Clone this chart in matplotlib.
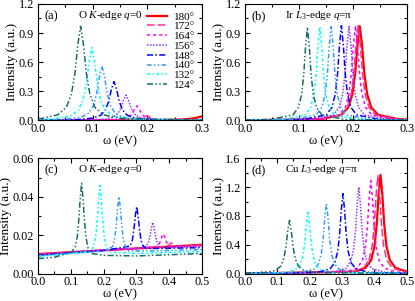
import matplotlib
matplotlib.use("Agg")
import matplotlib.pyplot as plt
from matplotlib.ticker import MultipleLocator

plt.rcParams['font.family'] = ['Liberation Serif', 'DejaVu Serif']
plt.rcParams['mathtext.fontset'] = 'custom'
plt.rcParams['mathtext.rm'] = 'Liberation Serif'
plt.rcParams['mathtext.it'] = 'Liberation Serif:italic'
plt.rcParams['font.size'] = 9

angles = ['180°', '172°', '164°', '156°', '148°', '140°', '132°', '124°']
colors = ['#ff0000', '#ff3090', '#ff00ff', '#9933ff', '#0000ff', '#3399ff', '#00ffff', '#1a6a6a']
styles = ['-', (0, (5, 2)), (0, (2, 2)), (0, (1, 1)), (0, (4, 1.5, 1, 1.5)),
          (0, (3, 1.5, 1, 1.5, 1, 1.5)), (0, (2, 1.5, 1, 1.5)), (0, (4, 1.5, 1, 1.5, 1, 1.5))]
widths = [1.6, 1.1, 1.1, 1.1, 1.1, 1.1, 1.1, 1.1]

# (a) O K-edge q=0, curves in order 180 ... 124
a_omega = [
    [0.0, 0.15, 0.22, 0.25, 0.27, 0.28, 0.29, 0.30],
    [0.0, 0.171, 0.1815, 0.188, 0.192, 0.1955, 0.199, 0.2025, 0.206, 0.210, 0.2165, 0.227, 0.3],
    [0.0, 0.149, 0.161, 0.1682, 0.173, 0.177, 0.181, 0.185, 0.189, 0.1938, 0.201, 0.213, 0.3],
    [0.0, 0.091, 0.125, 0.1385, 0.1466, 0.152, 0.1565, 0.161, 0.1655, 0.170, 0.1754, 0.1835, 0.197, 0.231, 0.3],
    [0.0, 0.069, 0.101, 0.1153, 0.1238, 0.1295, 0.1343, 0.139, 0.1438, 0.1485, 0.1542, 0.1628, 0.177, 0.209, 0.3],
    [0.0, 0.047, 0.079, 0.0933, 0.1018, 0.1075, 0.1123, 0.117, 0.1218, 0.1265, 0.1322, 0.1408, 0.155, 0.187, 0.3],
    [0.0, 0.0285, 0.0585, 0.0735, 0.0825, 0.0885, 0.0935, 0.0985, 0.1035, 0.1085, 0.1145, 0.1235, 0.1385, 0.1685, 0.3],
    [0.0, 0.008, 0.036, 0.0518, 0.0612, 0.0675, 0.07275, 0.078, 0.08325, 0.0885, 0.0948, 0.1042, 0.12, 0.148, 0.3],
]
a_intensity = [
    [0.0, 0.002, 0.004, 0.007, 0.012, 0.018, 0.027, 0.042],
    [0.0005, 0.003, 0.007, 0.014, 0.025, 0.040, 0.050, 0.040, 0.025, 0.014, 0.007, 0.003, 0.0005],
    [0.0003, 0.009, 0.021, 0.042, 0.075, 0.12, 0.15, 0.12, 0.075, 0.042, 0.021, 0.009, 0.0007],
    [0.0008, 0.004, 0.015, 0.036, 0.073, 0.13, 0.208, 0.26, 0.208, 0.13, 0.073, 0.036, 0.015, 0.004, 0.001],
    [0.0019, 0.0072, 0.024, 0.055, 0.112, 0.20, 0.32, 0.40, 0.32, 0.20, 0.112, 0.055, 0.024, 0.0072, 0.0014],
    [0.0037, 0.0101, 0.033, 0.077, 0.157, 0.28, 0.448, 0.56, 0.448, 0.28, 0.157, 0.077, 0.033, 0.0101, 0.0015],
    [0.0077, 0.015, 0.044, 0.1035, 0.211, 0.375, 0.60, 0.75, 0.60, 0.375, 0.211, 0.1035, 0.044, 0.015, 0.0018],
    [0.0173, 0.0214, 0.057, 0.134, 0.273, 0.485, 0.776, 0.97, 0.776, 0.485, 0.273, 0.134, 0.057, 0.0214, 0.0022],
]

# (b) Ir L3-edge q=pi
b_omega = [
    [0.0, 0.143, 0.179, 0.1918, 0.1994, 0.2045, 0.20875, 0.213, 0.21725, 0.2215, 0.2266, 0.2343, 0.247, 0.283, 0.3],
    [0.0, 0.14, 0.178, 0.19, 0.1972, 0.202, 0.206, 0.210, 0.214, 0.218, 0.2228, 0.230, 0.242, 0.28, 0.3],
    [0.0, 0.135, 0.175, 0.18625, 0.193, 0.1975, 0.20125, 0.205, 0.20875, 0.2125, 0.217, 0.22375, 0.235, 0.275, 0.3],
    [0.0, 0.123, 0.1642, 0.175, 0.1815, 0.1858, 0.1894, 0.193, 0.1966, 0.2002, 0.2045, 0.211, 0.2218, 0.263, 0.3],
    [0.0, 0.109, 0.151, 0.1615, 0.1678, 0.172, 0.1755, 0.179, 0.1825, 0.186, 0.1902, 0.1965, 0.207, 0.249, 0.3],
    [0.0, 0.09, 0.132, 0.1425, 0.1488, 0.153, 0.1565, 0.160, 0.1635, 0.167, 0.1712, 0.1775, 0.188, 0.23, 0.3],
    [0.0, 0.069, 0.1118, 0.122, 0.1281, 0.1322, 0.1356, 0.139, 0.1424, 0.1458, 0.1499, 0.156, 0.1662, 0.209, 0.3],
    [0.0, 0.046, 0.0892, 0.0993, 0.1053, 0.1093, 0.11265, 0.116, 0.11935, 0.1227, 0.1267, 0.1328, 0.1428, 0.186, 0.3],
]
b_intensity = [
    [0.0015, 0.0141, 0.057, 0.134, 0.273, 0.485, 0.776, 0.97, 0.776, 0.485, 0.273, 0.134, 0.057, 0.0141, 0.0092],
    [0.0014, 0.0126, 0.0575, 0.135, 0.274, 0.4875, 0.78, 0.975, 0.78, 0.4875, 0.274, 0.135, 0.0575, 0.0126, 0.0076],
    [0.0013, 0.011, 0.0575, 0.135, 0.274, 0.4875, 0.78, 0.975, 0.78, 0.4875, 0.274, 0.135, 0.0575, 0.011, 0.0061],
    [0.0013, 0.0102, 0.057, 0.134, 0.273, 0.485, 0.776, 0.97, 0.776, 0.485, 0.273, 0.134, 0.057, 0.0102, 0.0044],
    [0.0015, 0.0097, 0.0575, 0.135, 0.274, 0.4875, 0.78, 0.975, 0.78, 0.4875, 0.274, 0.135, 0.0575, 0.0097, 0.0033],
    [0.0018, 0.0096, 0.057, 0.133, 0.271, 0.4825, 0.772, 0.965, 0.772, 0.4825, 0.271, 0.133, 0.057, 0.0096, 0.0024],
    [0.0023, 0.009, 0.057, 0.133, 0.271, 0.4825, 0.772, 0.965, 0.772, 0.4825, 0.271, 0.133, 0.057, 0.009, 0.0017],
    [0.0032, 0.0087, 0.0566, 0.1325, 0.27, 0.48, 0.768, 0.96, 0.768, 0.48, 0.27, 0.1325, 0.0566, 0.0087, 0.0013],
]

# (c) O K-edge q=0, wide range
c_omega = [
    [0.0, 0.25, 0.5],
    [0.0, 0.2, 0.3, 0.387, 0.395, 0.400, 0.404, 0.407, 0.410, 0.414, 0.419, 0.427, 0.5],
    [0.0, 0.1, 0.2, 0.3, 0.362, 0.369, 0.374, 0.378, 0.382, 0.386, 0.390, 0.395, 0.402, 0.412, 0.5],
    [0.0, 0.1, 0.2, 0.3, 0.330, 0.337, 0.342, 0.346, 0.350, 0.354, 0.358, 0.363, 0.370, 0.380, 0.5],
    [0.0, 0.1, 0.2, 0.281, 0.288, 0.293, 0.297, 0.301, 0.305, 0.309, 0.314, 0.321, 0.331, 0.4, 0.5],
    [0.0, 0.1, 0.2, 0.227, 0.234, 0.239, 0.243, 0.247, 0.251, 0.255, 0.260, 0.267, 0.277, 0.35, 0.5],
    [0.0, 0.1, 0.16, 0.169, 0.176, 0.181, 0.185, 0.189, 0.193, 0.197, 0.202, 0.209, 0.219, 0.3, 0.4, 0.5],
    [0.0, 0.05, 0.09, 0.103, 0.113, 0.120, 0.125, 0.129, 0.133, 0.137, 0.141, 0.146, 0.153, 0.163, 0.2, 0.3, 0.4, 0.5],
]
c_intensity = [
    [0.0102, 0.0126, 0.0150],
    [0.0100, 0.0122, 0.0132, 0.0140, 0.0144, 0.0150, 0.0156, 0.0160, 0.0156, 0.0150, 0.0144, 0.0142, 0.0148],
    [0.0099, 0.0111, 0.0123, 0.0131, 0.0142, 0.0152, 0.0172, 0.0193, 0.0206, 0.0193, 0.0172, 0.0152, 0.0142, 0.0140, 0.0146],
    [0.0097, 0.0110, 0.0122, 0.0130, 0.0142, 0.0163, 0.0200, 0.0240, 0.0267, 0.0240, 0.0200, 0.0163, 0.0142, 0.0135, 0.0142],
    [0.0095, 0.0108, 0.0120, 0.0143, 0.0176, 0.0238, 0.0304, 0.0348, 0.0304, 0.0238, 0.0176, 0.0143, 0.0130, 0.0132, 0.0135],
    [0.0092, 0.0105, 0.0117, 0.0140, 0.0182, 0.0260, 0.0344, 0.0400, 0.0344, 0.0260, 0.0182, 0.0138, 0.0118, 0.0118, 0.0125],
    [0.0088, 0.0105, 0.0115, 0.0139, 0.0191, 0.0288, 0.0391, 0.0460, 0.0391, 0.0288, 0.0190, 0.0137, 0.0112, 0.0105, 0.0110, 0.0115],
    [0.0078, 0.0085, 0.0105, 0.0112, 0.0138, 0.0193, 0.0293, 0.0399, 0.0470, 0.0397, 0.0290, 0.0190, 0.0131, 0.0105, 0.0095, 0.0092, 0.0098, 0.0105],
]

# (d) Cu L3-edge q=pi
d_omega = [
    [0.0, 0.339, 0.373, 0.39025, 0.4006, 0.4075, 0.41325, 0.419, 0.42475, 0.4305, 0.4374, 0.44775, 0.465, 0.5],
    [0.0, 0.331, 0.367, 0.3835, 0.3934, 0.4, 0.4055, 0.411, 0.4165, 0.422, 0.4286, 0.4385, 0.455, 0.491, 0.5],
    [0.0, 0.309, 0.347, 0.3628, 0.3722, 0.3785, 0.38375, 0.389, 0.39425, 0.3995, 0.4058, 0.4152, 0.431, 0.469, 0.5],
    [0.0, 0.272, 0.312, 0.327, 0.336, 0.342, 0.347, 0.352, 0.357, 0.362, 0.368, 0.377, 0.392, 0.432, 0.5],
    [0.0, 0.223, 0.263, 0.278, 0.287, 0.293, 0.298, 0.303, 0.308, 0.313, 0.319, 0.328, 0.343, 0.383, 0.5],
    [0.0, 0.172, 0.212, 0.227, 0.236, 0.242, 0.247, 0.252, 0.257, 0.262, 0.268, 0.277, 0.292, 0.332, 0.5],
    [0.0, 0.115, 0.155, 0.17, 0.179, 0.185, 0.19, 0.195, 0.2, 0.205, 0.211, 0.22, 0.235, 0.275, 0.5],
    [0.0, 0.058, 0.094, 0.1105, 0.1204, 0.127, 0.1325, 0.138, 0.1435, 0.149, 0.1556, 0.1655, 0.182, 0.218, 0.5],
]
d_intensity = [
    [0.001, 0.0277, 0.0806, 0.188, 0.383, 0.685, 1.096, 1.37, 1.096, 0.685, 0.383, 0.188, 0.0806, 0.027],
    [0.001, 0.0252, 0.0802, 0.187, 0.381, 0.68, 1.088, 1.36, 1.088, 0.68, 0.381, 0.187, 0.0802, 0.0252, 0.0205],
    [0.0009, 0.0219, 0.0761, 0.178, 0.362, 0.645, 1.032, 1.29, 1.032, 0.645, 0.362, 0.178, 0.0761, 0.0219, 0.0114],
    [0.001, 0.0185, 0.0708, 0.166, 0.337, 0.6, 0.96, 1.2, 0.96, 0.6, 0.337, 0.166, 0.0708, 0.0185, 0.0055],
    [0.0012, 0.0171, 0.0655, 0.153, 0.312, 0.555, 0.888, 1.11, 0.888, 0.555, 0.312, 0.153, 0.0655, 0.0171, 0.0029],
    [0.0015, 0.0149, 0.0572, 0.134, 0.273, 0.485, 0.776, 0.97, 0.776, 0.485, 0.273, 0.134, 0.0572, 0.0149, 0.0016],
    [0.0022, 0.0131, 0.05, 0.117, 0.239, 0.425, 0.68, 0.85, 0.68, 0.425, 0.239, 0.117, 0.05, 0.0131, 0.0009],
    [0.0047, 0.0137, 0.0437, 0.102, 0.208, 0.37, 0.592, 0.74, 0.592, 0.37, 0.208, 0.102, 0.0437, 0.0137, 0.0007],
]

panels = [
    ('(a)', 'O $K$-edge $q$=0', a_omega, a_intensity, 0.3, 1.2, 0.3, '%.1f'),
    ('(b)', 'Ir $L_3$-edge $q$=π', b_omega, b_intensity, 0.3, 1.2, 0.3, '%.1f'),
    ('(c)', 'O $K$-edge $q$=0', c_omega, c_intensity, 0.5, 0.06, 0.02, '%.2f'),
    ('(d)', 'Cu $L_3$-edge $q$=π', d_omega, d_intensity, 0.5, 1.6, 0.4, '%.1f'),
]
rects = [
    [0.0916, 0.600, 0.395, 0.387],
    [0.590, 0.600, 0.390, 0.387],
    [0.0916, 0.091, 0.395, 0.383],
    [0.590, 0.091, 0.390, 0.383],
]

fig = plt.figure(figsize=(4.15, 3.01), dpi=100)
for k, (tag, title, om, inten, xmax, ymax, ystep, yfmt) in enumerate(panels):
    ax = fig.add_axes(rects[k])
    for i in range(len(angles)):
        ax.plot(om[i], inten[i], color=colors[i], ls=styles[i], lw=widths[i], label=angles[i])
    ax.set_xlim(0, xmax)
    ax.set_ylim(0, ymax)
    ax.xaxis.set_major_locator(MultipleLocator(0.1))
    ax.xaxis.set_minor_locator(MultipleLocator(0.05))
    ax.yaxis.set_major_locator(MultipleLocator(ystep))
    ax.yaxis.set_minor_locator(MultipleLocator(ystep / 2))
    ax.xaxis.set_major_formatter(plt.FormatStrFormatter('%.1f'))
    ax.yaxis.set_major_formatter(plt.FormatStrFormatter(yfmt))
    ax.tick_params(which='both', direction='in', top=True, right=True, labelsize=8.8, pad=3)
    ax.tick_params(axis='x', pad=2)
    ax.tick_params(which='major', length=3.5, width=0.8)
    ax.tick_params(which='minor', length=2, width=0.8)
    ax.set_xlabel('ω (eV)', labelpad=0, fontsize=9)
    ax.set_ylabel('Intensity (a.u.)', labelpad=0.5, fontsize=9.5)
    ax.text(0.04, 0.87, tag, transform=ax.transAxes, fontsize=9)
    ax.text(0.245, 0.88, title, transform=ax.transAxes, fontsize=8)
    if k == 0:
        ax.legend(loc='upper right', frameon=False, fontsize=8, handlelength=1.8,
                  labelspacing=0.0, handletextpad=0.6, borderaxespad=0.2,
                  bbox_to_anchor=(1.0, 0.99))

fig.savefig('out.png', dpi=100)
